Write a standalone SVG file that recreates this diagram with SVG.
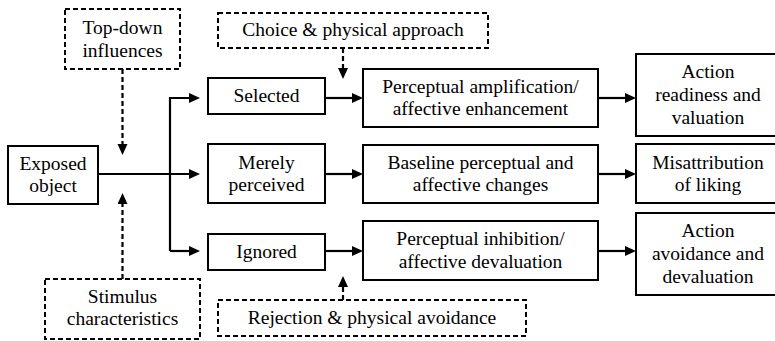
<svg xmlns="http://www.w3.org/2000/svg" width="775" height="341" viewBox="0 0 775 341">
<defs>
<style>
.box{fill:#fff;stroke:#000;stroke-width:2}
.dbox{fill:#fff;stroke:#000;stroke-width:2;stroke-dasharray:5 3}
.ln{fill:none;stroke:#000;stroke-width:2.2}
.dl{fill:none;stroke:#000;stroke-width:2.2;stroke-dasharray:5 3}
</style>
<marker id="ah" markerUnits="userSpaceOnUse" markerWidth="12" markerHeight="11" refX="2" refY="5" orient="auto">
<path d="M0,0 L11,5 L0,10 z" fill="#000"/>
</marker>
</defs>
<rect width="775" height="341" fill="#fff"/>

<g id="connectors">
<path class="ln" d="M98,174 H191" marker-end="url(#ah)"/>
<path class="ln" d="M170,251 V98 H191" marker-end="url(#ah)"/>
<path class="ln" d="M170,251 H191" marker-end="url(#ah)"/>
<path class="ln" d="M325,98 H354" marker-end="url(#ah)"/>
<path class="ln" d="M325,174 H354" marker-end="url(#ah)"/>
<path class="ln" d="M325,251 H354" marker-end="url(#ah)"/>
<path class="ln" d="M598,98 H627" marker-end="url(#ah)"/>
<path class="ln" d="M598,174 H627" marker-end="url(#ah)"/>
<path class="ln" d="M598,251 H627" marker-end="url(#ah)"/>
<path class="dl" d="M122.5,69 V146" marker-end="url(#ah)"/>
<path class="dl" d="M122.5,279 V202" marker-end="url(#ah)"/>
<path class="dl" d="M343,48 V70" marker-end="url(#ah)"/>
<path class="dl" d="M343,300 V285" marker-end="url(#ah)"/>
</g>

<g id="top-down">
<rect class="dbox" x="65" y="9" width="115" height="60"/>
<text x="122.5" y="34" font-family="Liberation Serif, serif" font-size="19.5" text-anchor="middle">Top-down</text>
<text x="122.5" y="56.5" font-family="Liberation Serif, serif" font-size="19.5" text-anchor="middle">influences</text>
</g>
<g id="exposed">
<rect class="box" x="8" y="146" width="90" height="58"/>
<text x="53" y="170" font-family="Liberation Serif, serif" font-size="19.5" text-anchor="middle">Exposed</text>
<text x="53" y="192" font-family="Liberation Serif, serif" font-size="19.5" text-anchor="middle">object</text>
</g>
<g id="stimulus">
<rect class="dbox" x="45" y="279" width="155" height="60"/>
<text x="122.5" y="302.5" font-family="Liberation Serif, serif" font-size="19.5" text-anchor="middle">Stimulus</text>
<text x="122.5" y="325" font-family="Liberation Serif, serif" font-size="19.5" text-anchor="middle">characteristics</text>
</g>
<g id="choice">
<rect class="dbox" x="218" y="13" width="270" height="35"/>
<text x="353" y="36" font-family="Liberation Serif, serif" font-size="19.5" text-anchor="middle">Choice &amp; physical approach</text>
</g>
<g id="rejection">
<rect class="dbox" x="218" y="300" width="308" height="36"/>
<text x="372" y="324" font-family="Liberation Serif, serif" font-size="19.5" text-anchor="middle">Rejection &amp; physical avoidance</text>
</g>
<g id="selected">
<rect class="box" x="208" y="78" width="117" height="36"/>
<text x="266.5" y="102" font-family="Liberation Serif, serif" font-size="19.5" text-anchor="middle">Selected</text>
</g>
<g id="merely">
<rect class="box" x="208" y="144" width="117" height="59"/>
<text x="266.5" y="168.5" font-family="Liberation Serif, serif" font-size="19.5" text-anchor="middle">Merely</text>
<text x="266.5" y="190.5" font-family="Liberation Serif, serif" font-size="19.5" text-anchor="middle">perceived</text>
</g>
<g id="ignored">
<rect class="box" x="208" y="234" width="117" height="36"/>
<text x="266.5" y="258" font-family="Liberation Serif, serif" font-size="19.5" text-anchor="middle">Ignored</text>
</g>
<g id="amplification">
<rect class="box" x="363" y="69" width="235" height="58"/>
<text x="480.5" y="93" font-family="Liberation Serif, serif" font-size="19.5" text-anchor="middle">Perceptual amplification/</text>
<text x="480.5" y="115" font-family="Liberation Serif, serif" font-size="19.5" text-anchor="middle">affective enhancement</text>
</g>
<g id="baseline">
<rect class="box" x="363" y="145" width="235" height="58"/>
<text x="480.5" y="169" font-family="Liberation Serif, serif" font-size="19.5" text-anchor="middle">Baseline perceptual and</text>
<text x="480.5" y="191" font-family="Liberation Serif, serif" font-size="19.5" text-anchor="middle">affective changes</text>
</g>
<g id="inhibition">
<rect class="box" x="363" y="221" width="235" height="59"/>
<text x="480.5" y="245" font-family="Liberation Serif, serif" font-size="19.5" text-anchor="middle">Perceptual inhibition/</text>
<text x="480.5" y="267.5" font-family="Liberation Serif, serif" font-size="19.5" text-anchor="middle">affective devaluation</text>
</g>
<g id="action-readiness">
<rect class="box" x="636" y="54" width="145" height="82"/>
<text x="708" y="78" font-family="Liberation Serif, serif" font-size="19.5" text-anchor="middle">Action</text>
<text x="708" y="101" font-family="Liberation Serif, serif" font-size="19.5" text-anchor="middle">readiness and</text>
<text x="708" y="123.5" font-family="Liberation Serif, serif" font-size="19.5" text-anchor="middle">valuation</text>
</g>
<g id="misattribution">
<rect class="box" x="636" y="144" width="145" height="59"/>
<text x="708" y="168.5" font-family="Liberation Serif, serif" font-size="19.5" text-anchor="middle">Misattribution</text>
<text x="708" y="190.5" font-family="Liberation Serif, serif" font-size="19.5" text-anchor="middle">of liking</text>
</g>
<g id="action-avoidance">
<rect class="box" x="636" y="213" width="145" height="82"/>
<text x="708" y="237" font-family="Liberation Serif, serif" font-size="19.5" text-anchor="middle">Action</text>
<text x="708" y="260" font-family="Liberation Serif, serif" font-size="19.5" text-anchor="middle">avoidance and</text>
<text x="708" y="282.5" font-family="Liberation Serif, serif" font-size="19.5" text-anchor="middle">devaluation</text>
</g>
</svg>
